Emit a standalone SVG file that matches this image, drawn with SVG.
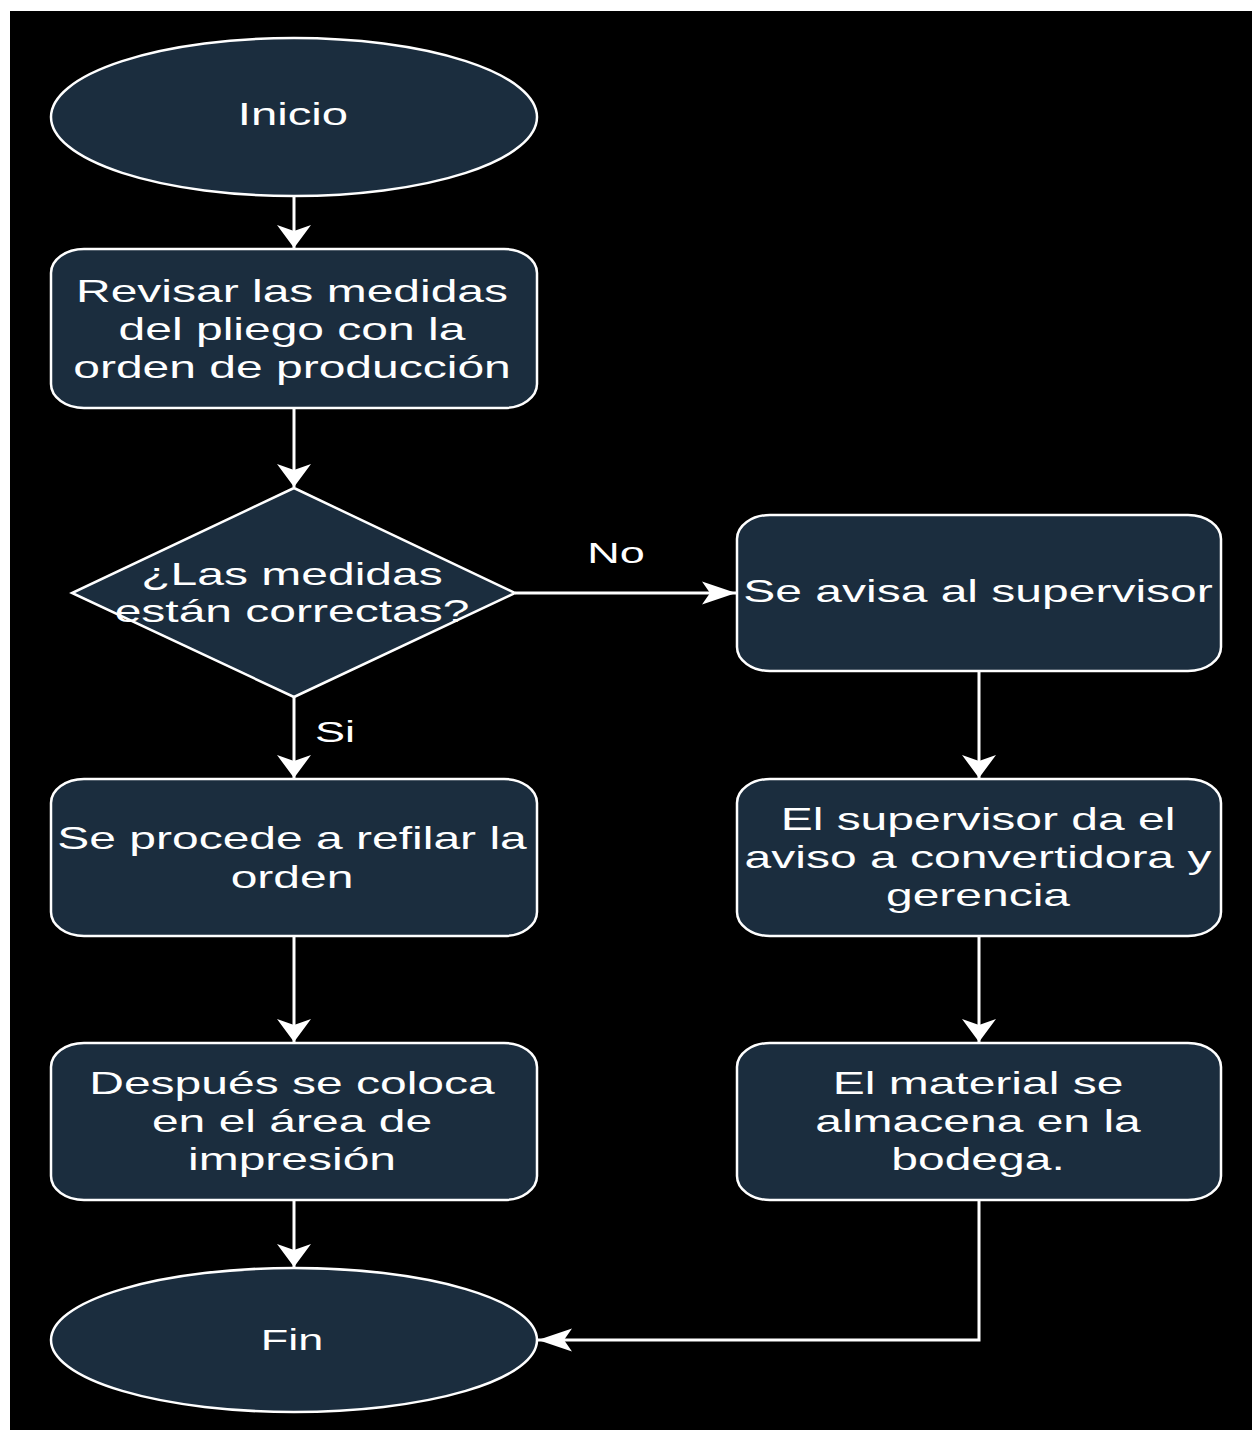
<svg xmlns="http://www.w3.org/2000/svg" width="1252" height="1433" viewBox="0 0 1252 1433">
  <style>
    .node { fill: #1b2d3e; stroke: #ffffff; stroke-width: 2.5; }
    .edge { fill: none; stroke: #ffffff; stroke-width: 3; }
    .t { font-family: "Liberation Sans", Arial, sans-serif; font-size: 32px; fill: #ffffff; text-anchor: middle; }
    .start { font-size: 31.5px; }
    .end { font-size: 30px; }
    .lbl { font-family: "Liberation Sans", Arial, sans-serif; font-size: 30px; fill: #ffffff; text-anchor: middle; }
  </style>
  <defs>
    <!-- classic notched arrowheads; the drawing is stretched 1.5x horizontally -->
    <marker id="arrowV" markerUnits="userSpaceOnUse" viewBox="-24 -18 25 36" refX="0" refY="0" markerWidth="25" markerHeight="36" orient="auto" overflow="visible">
      <path d="M0,0 L-23,-17 L-17,0 L-23,17 Z" fill="#ffffff"/>
    </marker>
    <marker id="arrowH" markerUnits="userSpaceOnUse" viewBox="-35 -12 36 24" refX="0" refY="0" markerWidth="36" markerHeight="24" orient="auto" overflow="visible">
      <path d="M0,0 L-34,-11.5 L-26,0 L-34,11.5 Z" fill="#ffffff"/>
    </marker>
  </defs>

  <rect x="0" y="0" width="1252" height="1433" fill="#ffffff"/>
  <rect x="10" y="11" width="1242" height="1419" fill="#000000"/>

  <g id="connectors">
    <path class="edge" d="M294,196 L294,248" marker-end="url(#arrowV)"/>
    <path class="edge" d="M294,408 L294,487" marker-end="url(#arrowV)"/>
    <path class="edge" d="M294,697 L294,778" marker-end="url(#arrowV)"/>
    <path class="edge" d="M294,936 L294,1042" marker-end="url(#arrowV)"/>
    <path class="edge" d="M294,1200 L294,1267" marker-end="url(#arrowV)"/>
    <path class="edge" d="M515,593 L736,593" marker-end="url(#arrowH)"/>
    <path class="edge" d="M979,671 L979,778" marker-end="url(#arrowV)"/>
    <path class="edge" d="M979,936 L979,1042" marker-end="url(#arrowV)"/>
    <path class="edge" d="M979,1200 L979,1340 L538,1340" marker-end="url(#arrowH)"/>
    <text class="lbl" transform="translate(616 563) scale(1.5 1)">No</text>
    <text class="lbl" transform="translate(335 742) scale(1.5 1)">Si</text>
  </g>

  <g id="inicio">
    <ellipse class="node" cx="294" cy="117" rx="243" ry="79"/>
    <text class="t start" transform="translate(293 125) scale(1.5 1)">Inicio</text>
  </g>

  <g id="revisar">
    <rect class="node" x="51" y="249" width="486" height="159" rx="33" ry="24"/>
    <text class="t" transform="translate(292 0) scale(1.5 1)"><tspan x="0" y="302">Revisar las medidas</tspan><tspan x="0" y="340">del pliego con la</tspan><tspan x="0" y="378">orden de producción</tspan></text>
  </g>

  <g id="decision">
    <polygon class="node" points="294,488 515,593 294,697 72,593"/>
    <text class="t" transform="translate(292 0) scale(1.5 1)"><tspan x="0" y="585">¿Las medidas</tspan><tspan x="0" y="622">están correctas?</tspan></text>
  </g>

  <g id="avisa">
    <rect class="node" x="737" y="515" width="484" height="156" rx="33" ry="24"/>
    <text class="t" transform="translate(978 602) scale(1.5 1)">Se avisa al supervisor</text>
  </g>

  <g id="refilar">
    <rect class="node" x="51" y="779" width="486" height="157" rx="33" ry="24"/>
    <text class="t" transform="translate(292 0) scale(1.5 1)"><tspan x="0" y="849">Se procede a refilar la</tspan><tspan x="0" y="888">orden</tspan></text>
  </g>

  <g id="supervisor">
    <rect class="node" x="737" y="779" width="484" height="157" rx="33" ry="24"/>
    <text class="t" transform="translate(978 0) scale(1.5 1)"><tspan x="0" y="830">El supervisor da el</tspan><tspan x="0" y="868">aviso a convertidora y</tspan><tspan x="0" y="906">gerencia</tspan></text>
  </g>

  <g id="impresion">
    <rect class="node" x="51" y="1043" width="486" height="157" rx="33" ry="24"/>
    <text class="t" transform="translate(292 0) scale(1.5 1)"><tspan x="0" y="1094">Después se coloca</tspan><tspan x="0" y="1132">en el área de</tspan><tspan x="0" y="1170">impresión</tspan></text>
  </g>

  <g id="bodega">
    <rect class="node" x="737" y="1043" width="484" height="157" rx="33" ry="24"/>
    <text class="t" transform="translate(978 0) scale(1.5 1)"><tspan x="0" y="1094">El material se</tspan><tspan x="0" y="1132">almacena en la</tspan><tspan x="0" y="1170">bodega.</tspan></text>
  </g>

  <g id="fin">
    <ellipse class="node" cx="294" cy="1340" rx="243" ry="72"/>
    <text class="t end" transform="translate(292 1350) scale(1.5 1)">Fin</text>
  </g>
</svg>
